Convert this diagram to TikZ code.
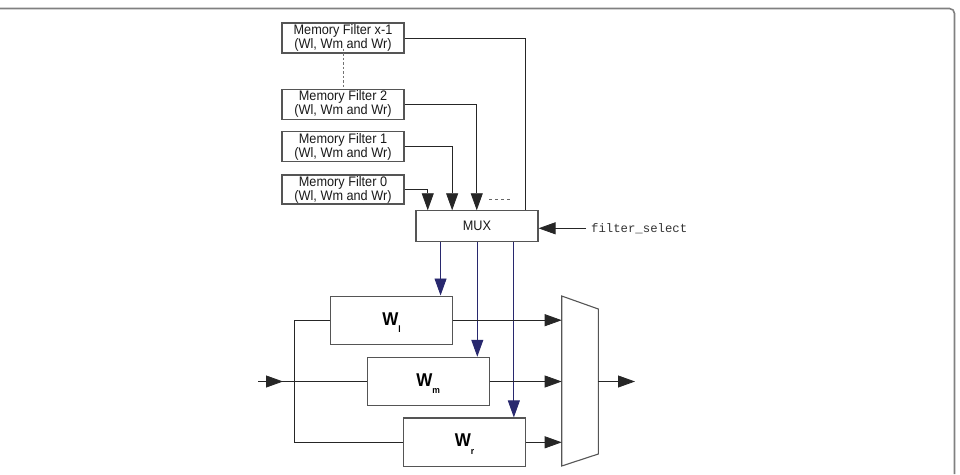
\documentclass[tikz,border=0pt]{standalone}
\usepackage{fontspec}
\setmainfont{Liberation Sans}[FakeStretch=0.92]
\setmonofont{Liberation Mono}
\usetikzlibrary{arrows.meta,calc}
\definecolor{navy}{RGB}{40,40,110}
\definecolor{boxgray}{RGB}{85,85,85}
\begin{document}
\begin{tikzpicture}[x=1pt,y=-1pt,
  memfilt/.style={draw=boxgray,line width=1.1pt,minimum width=122pt,minimum height=30pt,inner sep=0pt,align=center,font=\fontsize{13.8}{14}\selectfont,text=black!90},
  wbox/.style={draw=boxgray,line width=1.1pt,minimum width=122pt,minimum height=48.5pt,inner sep=0pt},
  wlab/.style={anchor=base,inner sep=0pt,font=\fontsize{18.5}{20}\selectfont\bfseries},
  conn/.style={line width=0.8pt,black!85},
  arr/.style={conn,-{Triangle[length=17pt,width=12pt]}},
  barr/.style={line width=0.9pt,navy,-{Triangle[length=17pt,width=12pt]}},
]
\useasboundingbox (0,0) rectangle (960,474);
% frame
\draw[line width=1.6pt,black!50,rounded corners=5pt] (0,8.5) -| (954.5,474);

% memory filters
\node[memfilt] (mfx) at (343,38) {Memory Filter x-1\\(Wl, Wm and Wr)};
\node[memfilt] (mf2) at (343,104.3) {Memory Filter 2\\(Wl, Wm and Wr)};
\node[memfilt] (mf1) at (343,146.7) {Memory Filter 1\\(Wl, Wm and Wr)};
\node[memfilt,minimum height=29pt] (mf0) at (343,189.5) {Memory Filter 0\\(Wl, Wm and Wr)};
\draw[black!55,line width=0.9pt,dash pattern=on 2.5pt off 2pt] ($(mfx.south)+(0,-5)$) -- ($(mf2.north)+(0,-2)$);

% MUX
\node[memfilt,minimum height=31pt] (mux) at (477,226.3) {MUX};
\coordinate (m0) at ($(mux.north west)+(12.3,0)$);
\coordinate (m1) at ($(mux.north west)+(36.7,0)$);
\coordinate (m2) at ($(mux.north west)+(61.3,0)$);
\coordinate (mx) at ($(mux.north west)+(109.7,0)$);
\draw[arr] (mf0.east) -| (m0);
\draw[arr] (mf1.east) -| (m1);
\draw[arr] (mf2.east) -| (m2);
\draw[conn] (mfx.east) -| (mx);
\draw[black!60,line width=0.9pt,dash pattern=on 3pt off 3pt] (489,199.3) -- (511,199.3);

% filter select
\node[anchor=west,inner sep=0pt,font=\ttfamily\fontsize{12.3}{14}\selectfont,text=black!80] (fs) at (591,228.3) {filter\_select};
\draw[arr] ($(fs.west)+(-5,0)$) -- (fs.west -| mux.east);

% W boxes
\node[wbox,minimum width=121.6pt,minimum height=48.3pt] (wl) at (391.5,320.2) {};
\node[wbox,minimum width=121.7pt,minimum height=48.4pt] (wm) at (428.2,381.5) {};
\node[wbox,minimum width=122.4pt,minimum height=48.7pt] (wr) at (464.5,442.3) {};
\node[wlab] (wll) at ($(wl.center)+(0,4.8)$) {W\raisebox{-7.5pt}{\fontsize{9.3}{9}\selectfont l}};
\node[wlab] (wml) at ($(wm.center)+(0,4.5)$) {W\raisebox{-7.5pt}{\fontsize{9.3}{9}\selectfont m}};
\node[wlab] (wrl) at ($(wr.center)+(0,4.4)$) {W\raisebox{-7.5pt}{\fontsize{9.3}{9}\selectfont r}};

% blue arrows
\coordinate (bl) at ($(wl.north east)+(-12.3,0)$);
\coordinate (bm) at ($(wm.north east)+(-12.3,0)$);
\coordinate (br) at ($(wr.north east)+(-12.4,0)$);
\draw[barr] (mux.south -| bl) -- (bl);
\draw[barr] (mux.south -| bm) -- (bm);
\draw[barr] (mux.south -| br) -- (br);

% input
\coordinate (in) at (258,381.5);
\coordinate (sp) at (294,381.5);
\coordinate (tip) at (283,381.5);
\draw[conn] (in) -- (wm.west);
\draw[arr] (in) -- (tip);
\draw[conn] (wl.west) -| (sp |- wr.west) -- (wr.west);

% output mux (trapezoid)
\coordinate (t1) at (561.7,296);
\coordinate (t2) at (598.3,309);
\coordinate (t3) at (598.3,454);
\coordinate (t4) at (561.7,466);
\draw[draw=boxgray,line width=1.1pt] (t1) -- (t2) -- (t3) -- (t4) -- cycle;
\draw[arr] (wl.east) -- (wl.east -| t1);
\draw[arr] (wm.east) -- (wm.east -| t1);
\draw[arr] (wr.east) -- (wr.east -| t1);
\coordinate (out) at (635,381.5);
\draw[arr] (wm.east -| t2) -- (out);
\end{tikzpicture}
\end{document}
